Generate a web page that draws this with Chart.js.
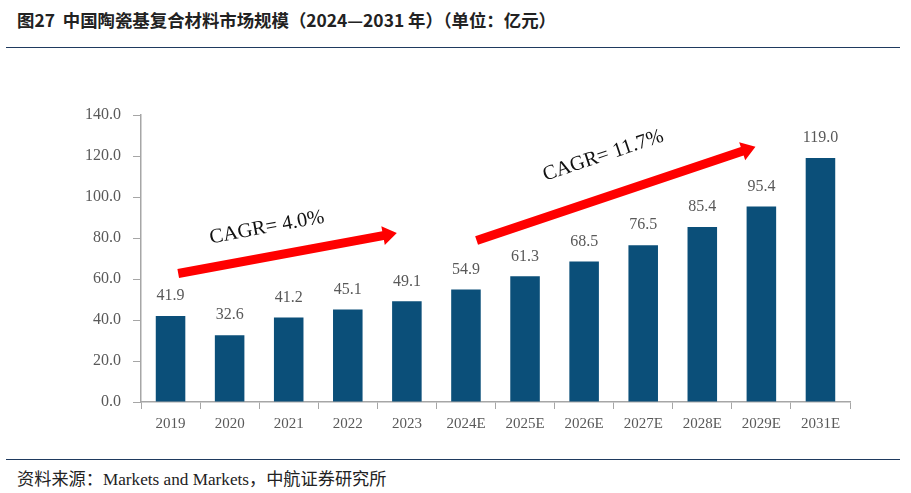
<!DOCTYPE html>
<html>
<head>
<meta charset="utf-8">
<script src="https://cdn.jsdelivr.net/npm/chart.js@4.4.1/dist/chart.umd.min.js"></script>
<style>
  body { margin: 0; width: 911px; height: 493px; background: #fff; position: relative; overflow: hidden; }
  #title { position: absolute; left: 17px; top: 7px; font: bold 17.4px "Noto Sans CJK SC", sans-serif; color: #222; }
  .rule { position: absolute; left: 6px; width: 894px; height: 0; border-top: 1.5px solid #1f3a5f; }
  #source { position: absolute; left: 17px; top: 465px; font: 17.2px "Liberation Serif", "Noto Sans CJK SC", serif; color: #222; }
  #wrap { position: absolute; left: 0; top: 50px; width: 911px; height: 400px; }
</style>
</head>
<body>
<div id="title">图27&nbsp; 中国陶瓷基复合材料市场规模（2024—2031 年）（单位：亿元）</div>
<div class="rule" style="top:47px"></div>
<div id="wrap"><canvas id="chart"></canvas></div>
<div class="rule" style="top:459px"></div>
<div id="source">资料来源：Markets and Markets，中航证券研究所</div>
<script>
const years = ['2019', '2020', '2021', '2022', '2023', '2024E', '2025E', '2026E', '2027E', '2028E', '2029E', '2031E'];
const marketSize = [41.9, 32.6, 41.2, 45.1, 49.1, 54.9, 61.3, 68.5, 76.5, 85.4, 95.4, 119.0];
const yTicks = [0, 20, 40, 60, 80, 100, 120, 140];

// CAGR arrows, in data units (category index, value)
const cagrText = ['CAGR= 4.0%', 'CAGR= 11.7%'];
const arrowFrom = [[0.13, 62.7], [5.18, 78.8]];
const arrowTo = [[3.83, 82.4], [9.9, 124.5]];
const textAt = [[0.43, -29], [0.5, -40]];

let annotate = {
    id: 'annotate',
    afterDatasetsDraw(chart) {
        let ctx = chart.ctx;
        let x = chart.scales.x, y = chart.scales.y;
        let meta = chart.getDatasetMeta(0);

        // value labels
        ctx.save();
        ctx.font = '16px "Liberation Serif", serif';
        ctx.fillStyle = '#595959';
        ctx.textAlign = 'center';
        ctx.textBaseline = 'bottom';
        meta.data.forEach((bar, i) => {
            ctx.fillText(marketSize[i].toFixed(1), bar.x, bar.y - 12);
        });
        ctx.restore();

        // arrows
        arrowFrom.forEach((from, i) => {
            let x1 = x.getPixelForValue(from[0]), y1 = y.getPixelForValue(from[1]);
            let x2 = x.getPixelForValue(arrowTo[i][0]), y2 = y.getPixelForValue(arrowTo[i][1]);
            let ang = Math.atan2(y2 - y1, x2 - x1);
            let len = Math.hypot(x2 - x1, y2 - y1);
            ctx.save();
            ctx.translate(x1, y1);
            ctx.rotate(ang);
            ctx.fillStyle = '#ff0000';
            ctx.beginPath();
            ctx.moveTo(0, -4.5);
            ctx.lineTo(len - 14, -4.5);
            ctx.lineTo(len - 14, -9.5);
            ctx.lineTo(len, 0);
            ctx.lineTo(len - 14, 9.5);
            ctx.lineTo(len - 14, 4.5);
            ctx.lineTo(0, 4.5);
            ctx.closePath();
            ctx.fill();

            ctx.translate(len * textAt[i][0], textAt[i][1]);
            ctx.font = '20.5px "Liberation Serif", serif';
            ctx.fillStyle = '#111';
            ctx.textAlign = 'center';
            ctx.textBaseline = 'middle';
            ctx.fillText(cagrText[i], 0, 0);
            ctx.restore();
        });
    }
};

new Chart(document.getElementById('chart'), {
    type: 'bar',
    data: {
        labels: years,
        datasets: [{
            data: marketSize,
            backgroundColor: '#0b4f79',
            barPercentage: 0.5,
            categoryPercentage: 1
        }]
    },
    options: {
        responsive: true,
        maintainAspectRatio: false,
        animation: false,
        layout: { padding: { top: 65, right: 61, bottom: 11, left: 20 } },
        plugins: { legend: { display: false }, tooltip: { enabled: false } },
        scales: {
            x: {
                grid: { display: true, drawOnChartArea: false, offset: true, color: '#a6a6a6', tickLength: 7 },
                border: { color: '#a6a6a6', width: 1.5 },
                ticks: { color: '#595959', font: { family: 'Liberation Serif', size: 15 }, padding: 6 }
            },
            y: {
                min: 0,
                max: 140,
                afterBuildTicks: (s) => { s.ticks = yTicks.map(v => ({ value: v })); },
                afterFit: (s) => { s.width = 121; },
                grid: { display: true, drawOnChartArea: false, color: '#a6a6a6', tickLength: 8 },
                border: { color: '#a6a6a6', width: 1.5 },
                ticks: {
                    color: '#595959',
                    font: { family: 'Liberation Serif', size: 16 },
                    padding: 12,
                    callback: (v) => v.toFixed(1)
                }
            }
        }
    },
    plugins: [annotate]
});
</script>
</body>
</html>
